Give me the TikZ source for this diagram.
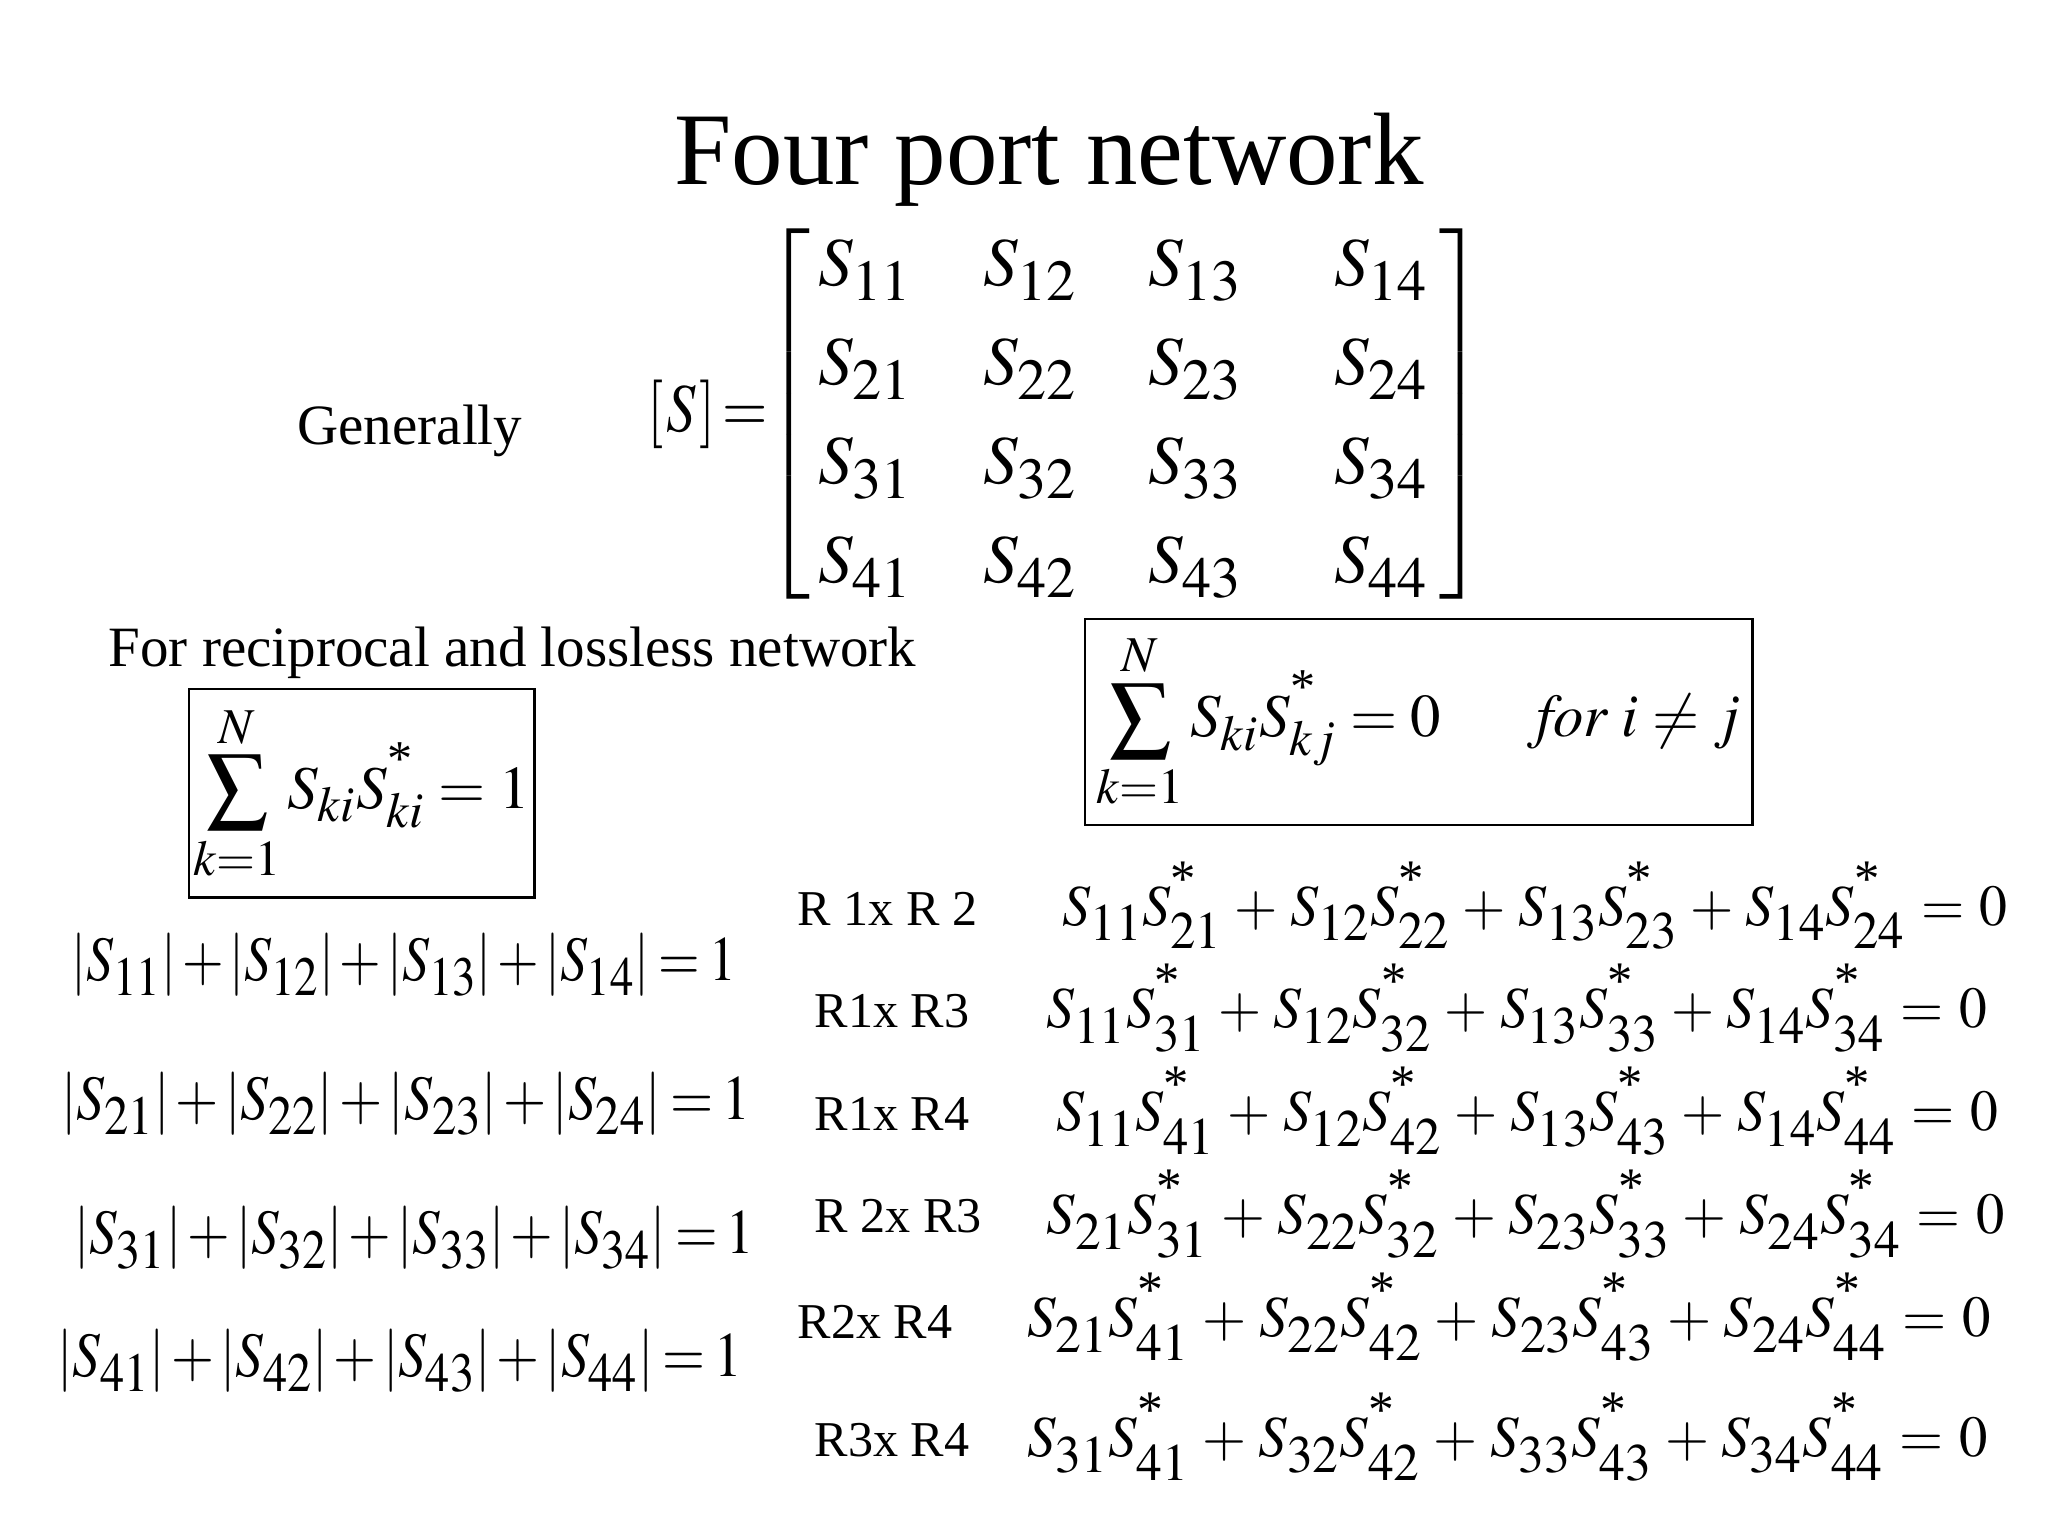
\documentclass[tikz,border=0pt]{standalone}
\usepackage{amsmath}
\usepackage{graphicx}
\usepackage{mathptmx}
\usepackage[no-math]{fontspec}
\setmainfont{Liberation Serif}
\usetikzlibrary{positioning}
\DeclareMathSizes{26}{26}{22}{16}
\DeclareMathSizes{24}{24}{21}{16}
\DeclareMathSizes{23}{23}{19}{15}
\DeclareMathSizes{22}{22}{20}{15}

\newcommand{\cj}{^{\text{\raisebox{3pt}{*}}}}
\newcommand{\squeeze}[2][0.845]{\scalebox{#1}[1]{#2}}

\tikzset{
  heading/.style={font=\fontsize{39}{46}\selectfont, anchor=base, inner sep=0pt},
  note/.style={font=\fontsize{21.6}{26}\selectfont, anchor=base west, inner sep=0pt},
  rowname/.style={font=\fontsize{19}{23}\selectfont, anchor=base west, inner sep=0pt},
  mateq/.style={font=\fontsize{26}{31}\selectfont, inner sep=0pt},
  bigeq/.style={font=\fontsize{22}{27}\selectfont, anchor=base west, inner sep=0pt,
    execute at begin node={\medmuskip=4mu\thickmuskip=5mu}},
  normeq/.style={font=\fontsize{24}{29}\selectfont, anchor=base west, inner sep=0pt,
    execute at begin node={\medmuskip=2mu\thickmuskip=3mu}},
  sumbox/.style={draw, line width=0.9pt, font=\fontsize{23}{28}\selectfont, inner sep=0pt}
}

\begin{document}
\begin{tikzpicture}[x=0.5pt, y=-0.5pt]
    \useasboundingbox (0,0) rectangle (1552,1164);

    \node [heading] (title) at (795,140) {Four port network};
    \node [note] (general) at (225,337) {Generally};

    % the scattering matrix
    \node [mateq, anchor=east] (smat) at (1126,314)
      {\renewcommand{\arraystretch}{1.21}\delimitershortfall=15pt%
       $\left[\begin{array}{@{\hspace{3pt}}c@{\hspace{27pt}}c@{\hspace{27pt}}c@{\hspace{35pt}}c@{\hspace{4.5pt}}}
         S_{11} & S_{12} & S_{13} & S_{14}\\
         S_{21} & S_{22} & S_{23} & S_{24}\\
         S_{31} & S_{32} & S_{33} & S_{34}\\
         S_{41} & S_{42} & S_{43} & S_{44}
       \end{array}\right]$};
    \node [mateq, left=-1.5pt of smat] (sname) {\squeeze[0.85]{$[\mkern1mu S\mkern1mu]\mkern-2mu=$}};

    \node [note] (recip) at (82,505) {For reciprocal and lossless network};

    % the two boxed conditions
    \node [sumbox, minimum width=131pt, minimum height=79pt] (unity) at (274,601)
      {$\displaystyle\sum_{k=1}^{N} S_{ki}S_{ki}\cj=1$};
    \node [sumbox, minimum width=253pt, minimum height=78pt] (ortho) at (1075,547)
      {$\displaystyle\sum_{k=1}^{N} S_{ki}S_{kj}\cj=0\hspace{36pt}\mathit{for}\;i\neq j$};

    % rows of unit length
    \node [normeq] (norm1) at (54,743)  {\squeeze{$\lvert S_{11}\rvert+\lvert S_{12}\rvert+\lvert S_{13}\rvert+\lvert S_{14}\rvert=1$}};
    \node [normeq] (norm2) at (46,848)  {\squeeze[0.877]{$\lvert S_{21}\rvert+\lvert S_{22}\rvert+\lvert S_{23}\rvert+\lvert S_{24}\rvert=1$}};
    \node [normeq] (norm3) at (56,950)  {\squeeze[0.865]{$\lvert S_{31}\rvert+\lvert S_{32}\rvert+\lvert S_{33}\rvert+\lvert S_{34}\rvert=1$}};
    \node [normeq] (norm4) at (43,1043) {\squeeze[0.872]{$\lvert S_{41}\rvert+\lvert S_{42}\rvert+\lvert S_{43}\rvert+\lvert S_{44}\rvert=1$}};

    % products of rows
    \node [rowname] (pair12) at (604,701)  {R 1x R 2};
    \node [rowname] (pair13) at (617,779)  {R1x R3};
    \node [rowname] (pair14) at (617,857)  {R1x R4};
    \node [rowname] (pair23) at (617,934)  {R 2x R3};
    \node [rowname] (pair24) at (604,1014) {R2x R4};
    \node [rowname] (pair34) at (617,1104) {R3x R4};

    \node [bigeq] (prod12) at (805,701)  {\squeeze[0.96]{$S_{11}S_{21}\cj+S_{12}S_{22}\cj+S_{13}S_{23}\cj+S_{14}S_{24}\cj=0$}};
    \node [bigeq] (prod13) at (793,779)  {\squeeze[0.955]{$S_{11}S_{31}\cj+S_{12}S_{32}\cj+S_{13}S_{33}\cj+S_{14}S_{34}\cj=0$}};
    \node [bigeq] (prod14) at (800,857)  {\squeeze[0.957]{$S_{11}S_{41}\cj+S_{12}S_{42}\cj+S_{13}S_{43}\cj+S_{14}S_{44}\cj=0$}};
    \node [bigeq] (prod23) at (793,935)  {\squeeze[0.973]{$S_{21}S_{31}\cj+S_{22}S_{32}\cj+S_{23}S_{33}\cj+S_{24}S_{34}\cj=0$}};
    \node [bigeq] (prod24) at (778,1013) {\squeeze[0.979]{$S_{21}S_{41}\cj+S_{22}S_{42}\cj+S_{23}S_{43}\cj+S_{24}S_{44}\cj=0$}};
    \node [bigeq] (prod34) at (778,1104) {\squeeze[0.976]{$S_{31}S_{41}\cj+S_{32}S_{42}\cj+S_{33}S_{43}\cj+S_{34}S_{44}\cj=0$}};
\end{tikzpicture}
\end{document}
